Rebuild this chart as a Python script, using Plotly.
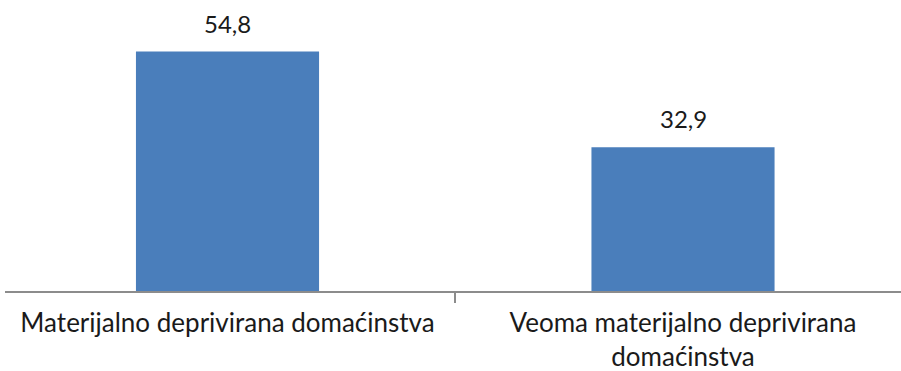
import plotly.graph_objects as go

# Share of households (%)
categories = ["Materijalno deprivirana domaćinstva",
              "Veoma materijalno deprivirana<br>domaćinstva"]
values = [54.8, 32.9]
value_labels = [f"{v:.1f}".replace(".", ",") for v in values]

BAR_COLOR = "#4A7EBB"
TEXT_COLOR = "#1a1a1a"
FONT = "Lato"

fig = go.Figure(
    go.Bar(
        x=categories,
        y=values,
        marker=dict(color=BAR_COLOR, line=dict(width=0)),
        hoverinfo="skip",
    )
)

# Value labels above each bar
for cat, val, lab in zip(categories, values, value_labels):
    fig.add_annotation(
        x=cat, y=val, text=lab, showarrow=False,
        xanchor="center", yanchor="bottom", yshift=12,
        font=dict(family=FONT, size=24, color=TEXT_COLOR),
    )

fig.update_layout(
    width=901, height=371,
    margin=dict(l=5, r=0, t=0, b=80),
    paper_bgcolor="white", plot_bgcolor="white",
    bargap=0.598,
    showlegend=False,
    font=dict(family=FONT, size=26, color=TEXT_COLOR),
)

fig.update_xaxes(
    type="category",
    range=[-0.4885, 1.4786],
    showline=True, linecolor="#8c8c8c", linewidth=2,
    ticks="outside", tickson="boundaries", ticklen=10,
    tickcolor="#8c8c8c", tickwidth=2,
    ticklabelstandoff=8,
    tickfont=dict(family=FONT, size=26, color=TEXT_COLOR),
    showgrid=False, zeroline=False,
)
fig.update_yaxes(
    range=[0, 66.6],
    visible=False, showgrid=False, zeroline=False,
)

fig.write_html("out.html")
